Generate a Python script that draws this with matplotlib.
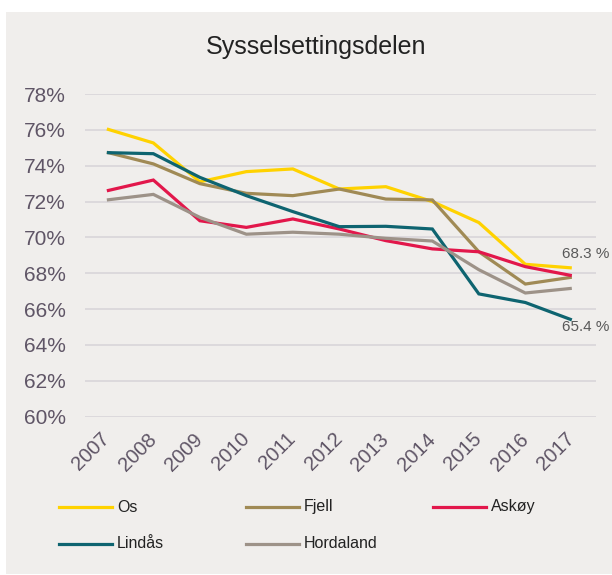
import matplotlib
matplotlib.use("Agg")
import matplotlib.pyplot as plt
from matplotlib.lines import Line2D
from matplotlib.patches import Rectangle

plt.rcParams['font.family'] = ['Liberation Sans', 'DejaVu Sans']

years = ["2007", "2008", "2009", "2010", "2011", "2012", "2013", "2014", "2015", "2016", "2017"]
os_vals = [76.05, 75.27, 73.10, 73.67, 73.82, 72.70, 72.83, 72.00, 70.83, 68.50, 68.30]
fjell = [74.75, 74.10, 73.00, 72.46, 72.33, 72.70, 72.14, 72.09, 69.20, 67.40, 67.78]
askoy = [72.60, 73.20, 70.93, 70.56, 71.03, 70.47, 69.82, 69.36, 69.20, 68.37, 67.87]
lindas = [74.73, 74.67, 73.35, 72.33, 71.44, 70.60, 70.62, 70.47, 66.85, 66.37, 65.40]
hordaland = [72.09, 72.40, 71.12, 70.18, 70.29, 70.18, 69.95, 69.80, 68.20, 66.90, 67.16]
yticks = [60, 62, 64, 66, 68, 70, 72, 74, 76, 78]

names = ["Os", "Fjell", "Askøy", "Lindås", "Hordaland"]
series = [os_vals, fjell, askoy, lindas, hordaland]
colors = ["#FFD200", "#A08A55", "#E2174B", "#0E6470", "#9D9288"]

W, H = 612, 575
fig = plt.figure(figsize=(W / 100, H / 100), dpi=100)
fig.patch.set_facecolor("white")
bg = "#F0EEEC"
fig.patches.append(Rectangle((6 / W, 1 / H), 1 - 6 / W, 1 - 13 / H,
                             transform=fig.transFigure, facecolor=bg,
                             edgecolor="none", zorder=-10))

left, right = 85 / W, 596 / W
bottom, top = 1 - 416.7 / H, 1 - 94 / H
ax = fig.add_axes([left, bottom, right - left, top - bottom])
ax.set_facecolor("none")

x = list(range(len(years)))
for vals, c in zip(series, colors):
    ax.plot(x, vals, color=c, lw=2.3, solid_capstyle="butt", solid_joinstyle="miter", zorder=3)

ax.set_xlim(-0.47, 10.52)
ax.set_ylim(60, 78)
ax.set_yticks(yticks)
ax.set_yticklabels([f"{v}%" for v in yticks])
ax.set_xticks(x)
ax.set_xticklabels(years, rotation=45, ha="right", va="center", rotation_mode="anchor")
tc = "#5F5566"
ax.tick_params(axis="y", length=0, pad=14, labelsize=15, labelcolor=tc)
ax.tick_params(axis="x", length=0, pad=14, labelsize=14.5, labelcolor=tc)
ax.grid(axis="y", color="#DCD9DC", lw=1.4, zorder=0)
ax.grid(axis="x", visible=False)
for s in ax.spines.values():
    s.set_visible(False)

# end labels
ax.annotate(f"{os_vals[-1]:.1f} %", xy=(x[-1], os_vals[-1]), xytext=(-7, 10),
            textcoords="offset points", ha="left", va="center",
            fontsize=11, color="#595959", annotation_clip=False)
ax.annotate(f"{lindas[-1]:.1f} %", xy=(x[-1], lindas[-1]), xytext=(-7, -5),
            textcoords="offset points", ha="left", va="center",
            fontsize=11, color="#595959", annotation_clip=False)

fig.text(316 / W, 1 - 47 / H, "Sysselsettingsdelen", ha="center", va="center",
         fontsize=18, color="#222222")

# legend (manual, three columns)
col_x = [59, 246, 433]
row_y = [507, 544]
for i, (n, c) in enumerate(zip(names, colors)):
    cx = col_x[i % 3]
    cy = row_y[i // 3]
    fig.lines.append(Line2D([cx / W, (cx + 53) / W], [1 - cy / H, 1 - cy / H],
                            transform=fig.transFigure, color=c, lw=2.3))
    fig.text((cx + 58) / W, 1 - cy / H, n, ha="left", va="center",
             fontsize=11.5, color="#222222")

fig.savefig("out.png", dpi=100, facecolor=fig.get_facecolor())
